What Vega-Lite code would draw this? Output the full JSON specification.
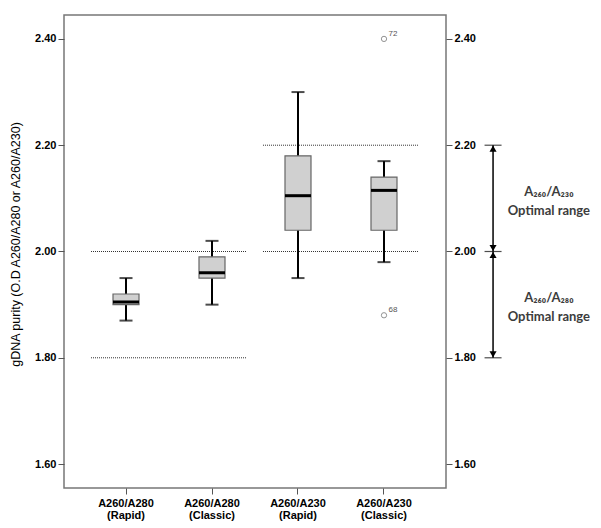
{
  "$schema": "https://vega.github.io/schema/vega-lite/v6.json",
  "padding": {"left": 8, "top": 14, "right": 0, "bottom": 0},
  "background": "white",
  "config": {
    "font": "Liberation Sans",
    "view": {"stroke": null},
    "concat": {"spacing": 4},
    "axis": {
      "grid": false,
      "domain": false,
      "tickColor": "#555555",
      "tickSize": 6,
      "tickWidth": 1,
      "labelFont": "Liberation Sans",
      "labelFontSize": 11,
      "labelFontWeight": "bold",
      "labelColor": "#000000",
      "labelPadding": 2
    }
  },
  "datasets": {
    "boxes": [
      {"group": "A260/A280 (Rapid)", "lower": 1.87, "q1": 1.90, "median": 1.905, "q3": 1.92, "upper": 1.95},
      {"group": "A260/A280 (Classic)", "lower": 1.90, "q1": 1.95, "median": 1.96, "q3": 1.99, "upper": 2.02},
      {"group": "A260/A230 (Rapid)", "lower": 1.95, "q1": 2.04, "median": 2.105, "q3": 2.18, "upper": 2.30},
      {"group": "A260/A230 (Classic)", "lower": 1.98, "q1": 2.04, "median": 2.115, "q3": 2.14, "upper": 2.17}
    ],
    "outliers": [
      {"group": "A260/A230 (Classic)", "value": 2.40, "id": "72"},
      {"group": "A260/A230 (Classic)", "value": 1.88, "id": "68"}
    ],
    "refs": [
      {"from": "A260/A280 (Rapid)", "to": "A260/A280 (Classic)", "value": 1.80},
      {"from": "A260/A280 (Rapid)", "to": "A260/A280 (Classic)", "value": 2.00},
      {"from": "A260/A230 (Rapid)", "to": "A260/A230 (Classic)", "value": 2.00},
      {"from": "A260/A230 (Rapid)", "to": "A260/A230 (Classic)", "value": 2.20}
    ],
    "ranges": [
      {"x": 0.103, "low": 2.00, "high": 2.20},
      {"x": 0.103, "low": 1.80, "high": 2.00}
    ],
    "caps": [
      {"x": 0.103, "y": 2.20},
      {"x": 0.103, "y": 2.00},
      {"x": 0.103, "y": 1.80}
    ],
    "heads": [
      {"x": 0.103, "y": 2.1935, "dir": "up"},
      {"x": 0.103, "y": 2.0065, "dir": "down"},
      {"x": 0.103, "y": 1.9935, "dir": "up"},
      {"x": 0.103, "y": 1.8065, "dir": "down"}
    ],
    "notes": [
      {"x": 0.58, "y": 2.112, "label": "A₂₆₀/A₂₃₀\nOptimal range"},
      {"x": 0.58, "y": 1.9125, "label": "A₂₆₀/A₂₈₀\nOptimal range"}
    ]
  },
  "hconcat": [
    {
      "width": 382,
      "height": 473,
      "view": {"stroke": "#777777", "strokeWidth": 1.5},
      "encoding": {
        "x": {
          "field": "group",
          "type": "nominal",
          "scale": {
            "domain": ["A260/A280 (Rapid)", "A260/A280 (Classic)", "A260/A230 (Rapid)", "A260/A230 (Classic)"],
            "paddingInner": 0,
            "paddingOuter": 0.221
          },
          "axis": {"title": null, "labelAngle": 0, "labelExpr": "split(datum.label, ' ')", "labelLineHeight": 12, "labelPadding": 3, "labelFontSize": 11}
        }
      },
      "layer": [
        {
          "data": {"name": "refs"},
          "mark": {"type": "rule", "color": "#333333", "strokeWidth": 1, "strokeDash": [1, 1]},
          "encoding": {
            "x": {
              "field": "from",
              "type": "nominal",
              "bandPosition": 0.093,
              "scale": {
                "domain": ["A260/A280 (Rapid)", "A260/A280 (Classic)", "A260/A230 (Rapid)", "A260/A230 (Classic)"],
                "paddingInner": 0,
                "paddingOuter": 0.221
              },
              "axis": {"title": null, "labelAngle": 0, "labelExpr": "split(datum.label, ' ')", "labelLineHeight": 12, "labelPadding": 3, "labelFontSize": 11}
            },
            "x2": {"field": "to", "bandPosition": 0.907},
            "y": {"field": "value", "type": "quantitative", "scale": {"domain": [1.555, 2.445], "nice": false, "zero": false}, "axis": null}
          }
        },
        {
          "data": {"name": "boxes"},
          "mark": {"type": "rule", "color": "#000000", "strokeWidth": 2},
          "encoding": {
            "y": {
              "field": "lower",
              "type": "quantitative",
              "scale": {"domain": [1.555, 2.445], "nice": false, "zero": false},
              "axis": {
                "orient": "left",
                "values": [1.6, 1.8, 2.0, 2.2, 2.4],
                "format": ".2f",
                "title": "gDNA purity (O.D A260/A280 or A260/A230)",
                "titleFont": "Liberation Sans",
                "titleFontSize": 12.5,
                "titleFontWeight": "normal",
                "titleColor": "#000000",
                "titlePadding": 12,
                "titleY": 229
              }
            },
            "y2": {"field": "upper"}
          }
        },
        {
          "data": {"name": "boxes"},
          "mark": {"type": "tick", "color": "#000000", "size": 13, "thickness": 2, "orient": "horizontal"},
          "encoding": {
            "y": {"field": "lower", "type": "quantitative", "axis": null}
          }
        },
        {
          "data": {"name": "boxes"},
          "mark": {"type": "tick", "color": "#000000", "size": 13, "thickness": 2, "orient": "horizontal"},
          "encoding": {
            "y": {"field": "upper", "type": "quantitative", "axis": null}
          }
        },
        {
          "data": {"name": "boxes"},
          "mark": {"type": "bar", "width": 26, "fill": "#d0d0d0", "stroke": "#666666", "strokeWidth": 1.2},
          "encoding": {
            "y": {
              "field": "q1",
              "type": "quantitative",
              "axis": {
                "orient": "right",
                "values": [1.6, 1.8, 2.0, 2.2, 2.4],
                "format": ".2f",
                "title": null
              }
            },
            "y2": {"field": "q3"}
          }
        },
        {
          "data": {"name": "boxes"},
          "mark": {"type": "tick", "color": "#000000", "size": 26, "thickness": 3, "orient": "horizontal", "opacity": 1},
          "encoding": {
            "y": {"field": "median", "type": "quantitative", "axis": null}
          }
        },
        {
          "data": {"name": "outliers"},
          "mark": {"type": "point", "shape": "circle", "filled": false, "size": 28, "stroke": "#666666", "strokeWidth": 1},
          "encoding": {
            "y": {"field": "value", "type": "quantitative", "axis": null}
          }
        },
        {
          "data": {"name": "outliers"},
          "mark": {"type": "text", "dx": 9, "dy": -5, "fontSize": 8, "color": "#555555"},
          "encoding": {
            "y": {"field": "value", "type": "quantitative", "axis": null},
            "text": {"field": "id", "type": "nominal"}
          }
        }
      ],
      "resolve": {"axis": {"y": "independent"}}
    },
    {
      "width": 117,
      "height": 473,
      "layer": [
        {
          "data": {"name": "ranges"},
          "mark": {"type": "rule", "color": "#000000", "strokeWidth": 1.5},
          "encoding": {
            "x": {"field": "x", "type": "quantitative", "scale": {"domain": [0, 1], "nice": false, "zero": false}, "axis": null},
            "y": {"field": "low", "type": "quantitative", "scale": {"domain": [1.555, 2.445], "nice": false, "zero": false}, "axis": null},
            "y2": {"field": "high"}
          }
        },
        {
          "data": {"name": "caps"},
          "mark": {"type": "tick", "color": "#000000", "size": 17, "thickness": 1.2, "orient": "horizontal"},
          "encoding": {
            "x": {"field": "x", "type": "quantitative"},
            "y": {"field": "y", "type": "quantitative"}
          }
        },
        {
          "data": {"name": "heads"},
          "mark": {"type": "point", "filled": true, "size": 50, "color": "#000000", "opacity": 1},
          "encoding": {
            "x": {"field": "x", "type": "quantitative"},
            "y": {"field": "y", "type": "quantitative"},
            "shape": {
              "field": "dir",
              "type": "nominal",
              "scale": {"domain": ["up", "down"], "range": ["triangle-up", "triangle-down"]},
              "legend": null
            }
          }
        },
        {
          "data": {"name": "notes"},
          "mark": {"type": "text", "font": "Lato", "fontSize": 13, "fontWeight": "bold", "color": "#3c3c3c", "lineBreak": "\n", "lineHeight": 19, "align": "center", "baseline": "middle"},
          "encoding": {
            "x": {"field": "x", "type": "quantitative"},
            "y": {"field": "y", "type": "quantitative"},
            "text": {"field": "label", "type": "nominal"}
          }
        }
      ]
    }
  ]
}
